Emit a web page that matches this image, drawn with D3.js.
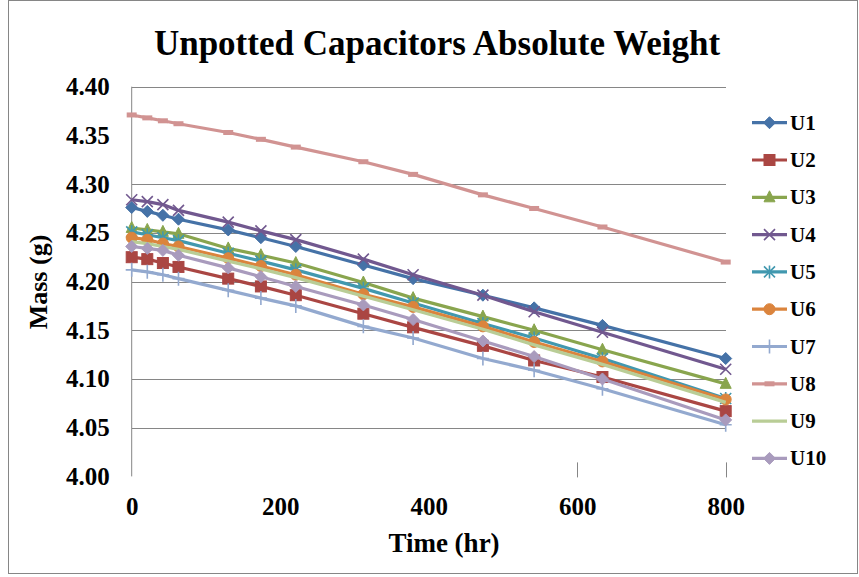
<!DOCTYPE html>
<html><head><meta charset="utf-8">
<script src="https://cdn.jsdelivr.net/npm/d3@7"></script>
<style>body{margin:0;background:#fff}svg{display:block}</style>
</head><body><svg id="c" width="859" height="577"></svg>
<script>
// ---- data ----
const hours = [0, 21, 42, 63, 130, 174, 221, 312, 379, 473, 542, 634, 800];
const seriesNames = ["U1","U2","U3","U4","U5","U6","U7","U8","U9","U10"];
const U1  = [4.276, 4.272, 4.268, 4.264, 4.253, 4.245, 4.236, 4.217, 4.203, 4.186, 4.173, 4.155, 4.121];
const U2  = [4.225, 4.223, 4.219, 4.215, 4.203, 4.195, 4.186, 4.167, 4.153, 4.134, 4.119, 4.102, 4.067];
const U3  = [4.255, 4.253, 4.251, 4.249, 4.234, 4.227, 4.219, 4.199, 4.183, 4.164, 4.150, 4.130, 4.095];
const U4  = [4.284, 4.282, 4.279, 4.273, 4.261, 4.252, 4.243, 4.223, 4.207, 4.186, 4.169, 4.148, 4.110];
const U5  = [4.251, 4.248, 4.245, 4.242, 4.229, 4.221, 4.212, 4.193, 4.178, 4.157, 4.142, 4.121, 4.080];
const U6  = [4.245, 4.243, 4.239, 4.236, 4.224, 4.216, 4.207, 4.187, 4.174, 4.154, 4.138, 4.118, 4.079];
const U7  = [4.212, 4.210, 4.207, 4.203, 4.191, 4.183, 4.175, 4.154, 4.142, 4.121, 4.109, 4.090, 4.053];
const U8  = [4.371, 4.368, 4.365, 4.362, 4.353, 4.346, 4.338, 4.323, 4.310, 4.289, 4.275, 4.256, 4.220];
const U9  = [4.241, 4.239, 4.236, 4.233, 4.221, 4.213, 4.204, 4.185, 4.171, 4.151, 4.135, 4.115, 4.076];
const U10 = [4.236, 4.234, 4.232, 4.227, 4.214, 4.205, 4.195, 4.176, 4.161, 4.139, 4.123, 4.100, 4.058];
const seriesValues = [U1, U2, U3, U4, U5, U6, U7, U8, U9, U10];
const colors = ["#4572A7","#AA4643","#89A54E","#71588F","#4198AF","#DB843D","#93A9CF","#D19392","#B9CD96","#A99BBD"];
const markerTypes = ["diamond","square","triangle","x","star","circle","plus","dash","none","diamond"];
const yTickValues = [4.00, 4.05, 4.10, 4.15, 4.20, 4.25, 4.30, 4.35, 4.40];
const yGridValues = [4.05, 4.10, 4.15, 4.20, 4.25, 4.30, 4.40];
const xTickValues = [0, 200, 400, 600, 800];
const xMarkValues = [600, 800];
const titleText = "Unpotted Capacitors Absolute Weight";
const xTitle = "Time (hr)";
const yTitle = "Mass (g)";

// ---- layout ----
const svg = d3.select("#c");
const font = "'Liberation Serif','Times New Roman',serif";
const x = d3.scaleLinear().domain([0, 800]).range([131.7, 725.7]);
const y = d3.scaleLinear().domain([4.00, 4.40]).range([476.4, 86.7]);

// outer border
svg.append("rect").attr("x", 8.5).attr("y", 0.5).attr("width", 849).attr("height", 573)
  .attr("fill", "none").attr("stroke", "#868686").attr("stroke-width", 1);

// gridlines
const grid = svg.append("g").attr("transform", `translate(${x(0)},0)`)
  .call(d3.axisLeft(y).tickValues(yGridValues).tickSize(-(x(800) - x(0))).tickFormat(""));
grid.select(".domain").remove();
grid.selectAll("line").attr("stroke", "#868686").attr("stroke-width", 1).attr("shape-rendering", "crispEdges");

// y axis labels
const ya = svg.append("g").attr("transform", `translate(${x(0)},0)`)
  .call(d3.axisLeft(y).tickValues(yTickValues).tickSize(0).tickPadding(22).tickFormat(d3.format(".2f")));
ya.select(".domain").remove();
ya.selectAll("text").attr("font-family", font).attr("font-weight", "bold").attr("font-size", 25).attr("fill", "#000");
svg.append("line").attr("x1", x(0)).attr("x2", x(0)).attr("y1", y(4.40)).attr("y2", y(4.00))
  .attr("stroke", "#868686").attr("stroke-width", 1);

// x axis labels
const xa = svg.append("g").attr("transform", `translate(0,${y(4.00)})`)
  .call(d3.axisBottom(x).tickValues(xTickValues).tickSize(0).tickPadding(21).tickFormat(d3.format("d")));
xa.select(".domain").remove();
xa.selectAll("text").attr("font-family", font).attr("font-weight", "bold").attr("font-size", 25).attr("fill", "#000");
// visible tick marks
svg.append("g").selectAll("line").data(xMarkValues).join("line")
  .attr("x1", d => Math.round(x(d)) + 0.5).attr("x2", d => Math.round(x(d)) + 0.5)
  .attr("y1", y(4.00) - 14).attr("y2", y(4.00) + 1)
  .attr("stroke", "#868686").attr("stroke-width", 1);

// titles
svg.append("text").attr("x", 437).attr("y", 55).attr("text-anchor", "middle")
  .attr("font-family", font).attr("font-weight", "bold").attr("font-size", 35).text(titleText);
svg.append("text").attr("transform", "translate(38,282) rotate(-90)").attr("text-anchor", "middle")
  .attr("dominant-baseline", "central")
  .attr("font-family", font).attr("font-weight", "bold").attr("font-size", 26).text(yTitle);
svg.append("text").attr("x", 444).attr("y", 552).attr("text-anchor", "middle")
  .attr("font-family", font).attr("font-weight", "bold").attr("font-size", 27).text(xTitle);

// markers
function drawMarker(g, type, cx, cy, color) {
  const s = 6;
  if (type === "diamond") {
    g.append("path").attr("d", `M${cx},${cy - s}L${cx + s},${cy}L${cx},${cy + s}L${cx - s},${cy}Z`).attr("fill", color).attr("stroke", color);
  } else if (type === "square") {
    g.append("rect").attr("x", cx - 5.5).attr("y", cy - 5.5).attr("width", 11).attr("height", 11).attr("fill", color).attr("stroke", color);
  } else if (type === "triangle") {
    g.append("path").attr("d", `M${cx},${cy - 6.5}L${cx + 5.5},${cy + 4.5}L${cx - 5.5},${cy + 4.5}Z`).attr("fill", color).attr("stroke", color);
  } else if (type === "circle") {
    g.append("circle").attr("cx", cx).attr("cy", cy).attr("r", 5.5).attr("fill", color).attr("stroke", color);
  } else if (type === "x") {
    g.append("path").attr("d", `M${cx - 5.5},${cy - 5.5}L${cx + 5.5},${cy + 5.5}M${cx - 5.5},${cy + 5.5}L${cx + 5.5},${cy - 5.5}`)
      .attr("stroke", color).attr("stroke-width", 1.6).attr("fill", "none");
  } else if (type === "star") {
    g.append("path").attr("d", `M${cx - 5.5},${cy - 5.5}L${cx + 5.5},${cy + 5.5}M${cx - 5.5},${cy + 5.5}L${cx + 5.5},${cy - 5.5}M${cx},${cy - 6.5}L${cx},${cy + 6.5}`)
      .attr("stroke", color).attr("stroke-width", 1.6).attr("fill", "none");
  } else if (type === "plus") {
    g.append("path").attr("d", `M${cx - 6},${cy}L${cx + 6},${cy}M${cx},${cy - 7}L${cx},${cy + 7}`)
      .attr("stroke", color).attr("stroke-width", 1.6).attr("fill", "none");
  } else if (type === "dash") {
    g.append("rect").attr("x", cx - 5).attr("y", cy - 2.5).attr("width", 10).attr("height", 5).attr("fill", color);
  }
}

// series
const line = d3.line().x(d => x(d[0])).y(d => y(d[1]));
seriesValues.forEach((vals, i) => {
  const pts = hours.map((h, j) => [h, vals[j]]);
  const g = svg.append("g");
  g.append("path").attr("d", line(pts)).attr("fill", "none").attr("stroke", colors[i])
    .attr("stroke-width", 3.2).attr("stroke-linejoin", "round");
  pts.forEach(p => drawMarker(g, markerTypes[i], x(p[0]), y(p[1]), colors[i]));
});

// legend
const lg = svg.append("g");
seriesNames.forEach((n, i) => {
  const cy = 122.7 + i * 37.3;
  lg.append("line").attr("x1", 752).attr("x2", 787).attr("y1", cy).attr("y2", cy)
    .attr("stroke", colors[i]).attr("stroke-width", 3.2);
  drawMarker(lg, markerTypes[i], 769.5, cy, colors[i]);
  lg.append("text").attr("x", 790).attr("y", cy).attr("dominant-baseline", "central")
    .attr("font-family", font).attr("font-weight", "bold").attr("font-size", 21).text(n);
});
</script>
</body></html>
